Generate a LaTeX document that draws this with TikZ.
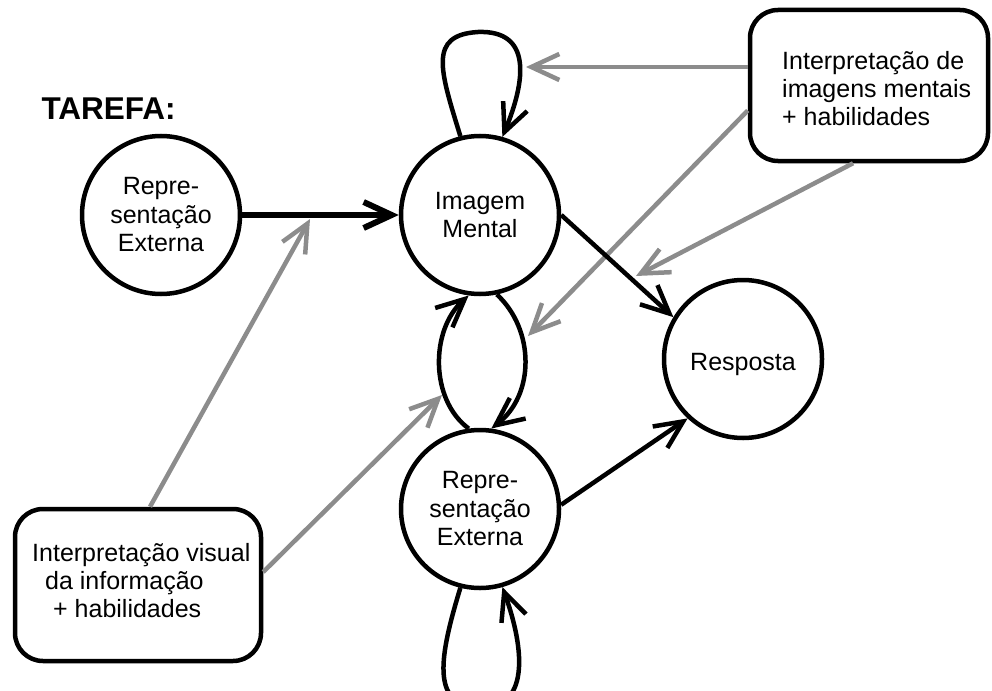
\documentclass[tikz,border=0pt]{standalone}
\usepackage{fontspec}
\setmainfont{Liberation Sans}
\usetikzlibrary{arrows.meta}
\definecolor{arrgray}{RGB}{140,140,140}
\begin{document}
\begin{tikzpicture}[x=1pt,y=-1pt,
  every node/.style={font=\fontsize{25}{28.5}\selectfont},
  circ/.style={draw,circle,line width=4.5pt,minimum size=158pt,inner sep=0pt,align=center},
  rbox/.style={draw,rounded corners=28pt,line width=4.5pt,inner sep=0pt},
  tip/.style={-{Straight Barb[length=28pt,width=26pt]}},
  blk/.style={tip,line width=4.5pt,black},
  gry/.style={tip,line width=4.5pt,arrgray},
  txt/.style={inner sep=0pt,align=left,font=\fontsize{25}{28}\selectfont}
]
\useasboundingbox (0,0) rectangle (992,690);
\clip (0,0) rectangle (992,690);

% nodes
\node[anchor=base west,font=\fontsize{31.5}{36}\selectfont\bfseries] (T) at (38,120) {TAREFA:};
\node[circ] (L) at (161,215) {Repre-\\sentação\\Externa};
\node[circ] (M) at (480,215) {Imagem\\Mental};
\node[circ,text height=23.4pt,text depth=0pt] (R) at (743,359) {Resposta};
\node[circ] (B) at (480,509) {Repre-\\sentação\\Externa};
\node[rbox,minimum width=238pt,minimum height=151pt] (TR) at (869,85.5) {};
\node[txt,anchor=west] (TRt) at (782,89) {Interpretação de\\imagens mentais\\+ habilidades};
\node[rbox,minimum width=246pt,minimum height=152pt] (BL) at (138,585) {};
\node[txt,anchor=west] (BLt) at (32,581) {Interpretação visual\\\hspace*{13pt}da informação\\\hspace*{21pt}+ habilidades};

% free ends of gray connectors
\coordinate (t1) at (526,67);
\coordinate (t2) at (528,336);
\coordinate (t3) at (636,276);
\coordinate (t4) at (310,219);
\coordinate (t5) at (442,395);

% gray connectors
\draw[gry] (TR.west |- t1) -- (t1);
\draw[gry] ([yshift=-25pt]TR.west) -- (t2);
\draw[gry] ([xshift=-16pt]TR.south) -- (t3);
\draw[gry] ([xshift=12pt]BL.north) -- (t4);
\draw[gry] ([yshift=13pt]BL.east) -- (t5);

% black connectors
\draw[blk,line width=6pt] (L) -- (M);
\draw[blk] (M.east) -- (R.149);
\draw[blk] (B.3) -- (R.227);
\draw[blk] (M.104) .. controls (440,70) and (428,35) .. (478,32)
                   .. controls (532,30) and (526,80) .. (M.74);
\draw[blk] (B.256) .. controls (440,655) and (430,705) .. (478,708)
                   .. controls (530,710) and (525,650) .. (B.286);
\draw[blk] (B.98) .. controls (430,400) and (430,330) .. (M.262);
\draw[blk] (M.282) .. controls (535,330) and (535,395) .. (B.82);
\end{tikzpicture}
\end{document}
